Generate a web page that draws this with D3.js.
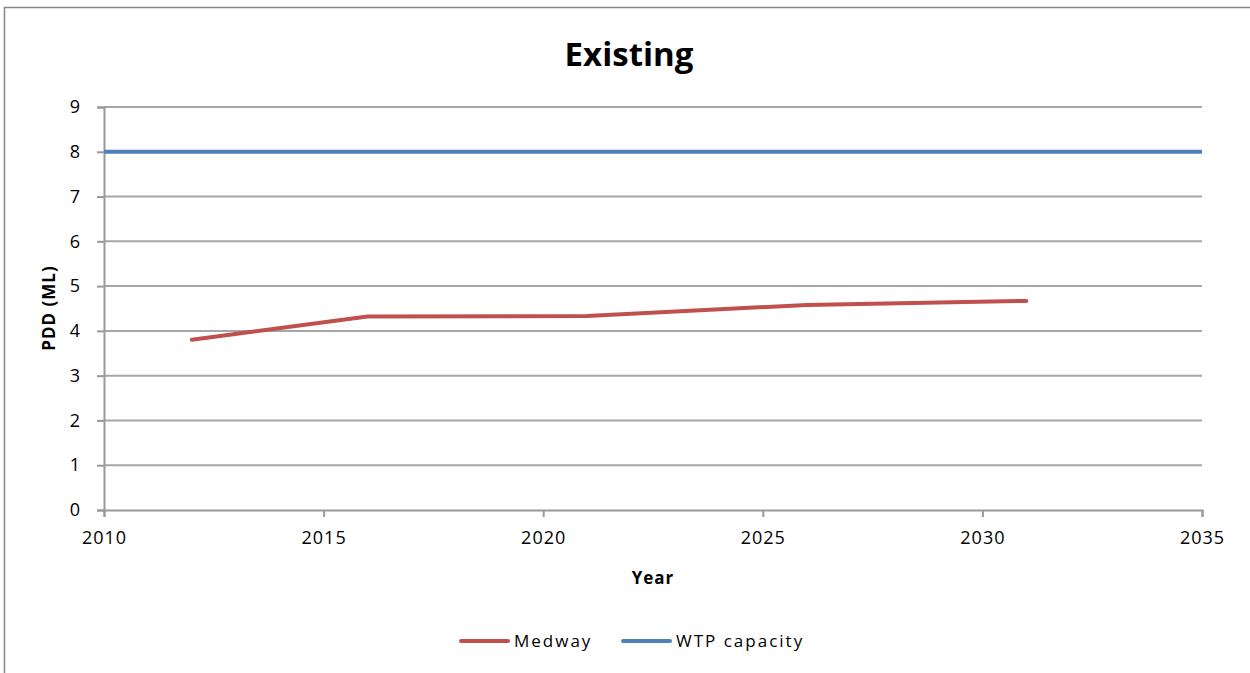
<!DOCTYPE html>
<html>
<head>
<meta charset="utf-8">
<script src="https://d3js.org/d3.v7.min.js"></script>
<style>
  body { margin: 0; background: #fff; }
  svg text { font-family: "Open Sans", sans-serif; fill: #000; }
</style>
</head>
<body>
<svg id="chart" width="1250" height="673"></svg>
<script>
// data
const years      = [2012, 2016, 2021, 2026, 2031];
const medway     = [3.80, 4.32, 4.33, 4.58, 4.67];
const wtpYears   = [2010, 2035];
const wtpCap     = [8, 8];
const xTicks     = [2010, 2015, 2020, 2025, 2030, 2035];
const yTicks     = [0, 1, 2, 3, 4, 5, 6, 7, 8, 9];
const seriesNames = ["Medway", "WTP capacity"];
const seriesColors = ["#C0504D", "#4F81BD"];

const svg = d3.select("#chart");

// chart frame (runs off right and bottom edges)
svg.append("rect")
    .attr("x", 4.5).attr("y", 7.5)
    .attr("width", 1260).attr("height", 700)
    .attr("fill", "#fff")
    .attr("stroke", "#868686")
    .attr("stroke-width", 1.5);

const margin = {left: 104, top: 107, right: 1202, bottom: 510};

const x = d3.scaleLinear().domain([2010, 2035]).range([margin.left, margin.right]);
const y = d3.scaleLinear().domain([0, 9]).range([margin.bottom, margin.top]);

// gridlines
svg.append("g")
    .selectAll("line")
    .data(yTicks.filter(d => d > 0))
    .enter().append("line")
    .attr("x1", margin.left).attr("x2", margin.right)
    .attr("y1", d => y(d)).attr("y2", d => y(d))
    .attr("stroke", "#a6a6a6")
    .attr("stroke-width", 2);

// x axis
const xAxis = svg.append("g")
    .attr("transform", "translate(0," + margin.bottom + ")")
    .call(d3.axisBottom(x).tickValues(xTicks).tickFormat(d3.format("d")).tickSizeOuter(0).tickSize(7).tickPadding(14));

// y axis
const yAxis = svg.append("g")
    .attr("transform", "translate(" + margin.left + ",0)")
    .call(d3.axisLeft(y).tickValues(yTicks).tickSizeOuter(0).tickSize(7).tickPadding(16));

[xAxis, yAxis].forEach(g => {
    g.select(".domain").attr("stroke", "#999").attr("stroke-width", 2);
    g.selectAll(".tick line").attr("stroke", "#999").attr("stroke-width", 2);
    g.selectAll(".tick text")
        .style("font-size", "18px")
        .style("letter-spacing", "1px")
        .attr("fill", "#000");
});

// series
const line = d3.line().x(d => x(d[0])).y(d => y(d[1]));

svg.append("path")
    .datum(wtpYears.map((yr, i) => [yr, wtpCap[i]]))
    .attr("d", line)
    .attr("fill", "none")
    .attr("stroke", seriesColors[1])
    .attr("stroke-width", 4);

svg.append("path")
    .datum(years.map((yr, i) => [yr, medway[i]]))
    .attr("d", line)
    .attr("fill", "none")
    .attr("stroke", seriesColors[0])
    .attr("stroke-width", 4)
    .attr("stroke-linecap", "round")
    .attr("stroke-linejoin", "round");

// title and axis labels
svg.append("text")
    .attr("x", 629).attr("y", 66)
    .attr("text-anchor", "middle")
    .style("font-size", "33px")
    .style("font-weight", "bold")
    .text("Existing");

svg.append("text")
    .attr("x", 653).attr("y", 584)
    .attr("text-anchor", "middle")
    .style("font-size", "17px")
    .style("font-weight", "bold")
    .style("letter-spacing", "1px")
    .text("Year");

svg.append("text")
    .attr("transform", "translate(55,308) rotate(-90)")
    .attr("text-anchor", "middle")
    .style("font-size", "17px")
    .style("font-weight", "bold")
    .style("letter-spacing", "1px")
    .text("PDD (ML)");

// legend
const legendX = [461, 623];
const legend = svg.append("g");
seriesNames.forEach((name, i) => {
    legend.append("line")
        .attr("x1", legendX[i]).attr("x2", legendX[i] + 47)
        .attr("y1", 641).attr("y2", 641)
        .attr("stroke", seriesColors[i])
        .attr("stroke-width", 4)
        .attr("stroke-linecap", "round");
    legend.append("text")
        .attr("x", legendX[i] + 53).attr("y", 647)
        .style("font-size", "17px")
        .style("letter-spacing", "2px")
        .attr("fill", "#222")
        .text(name);
});
</script>
</body>
</html>
